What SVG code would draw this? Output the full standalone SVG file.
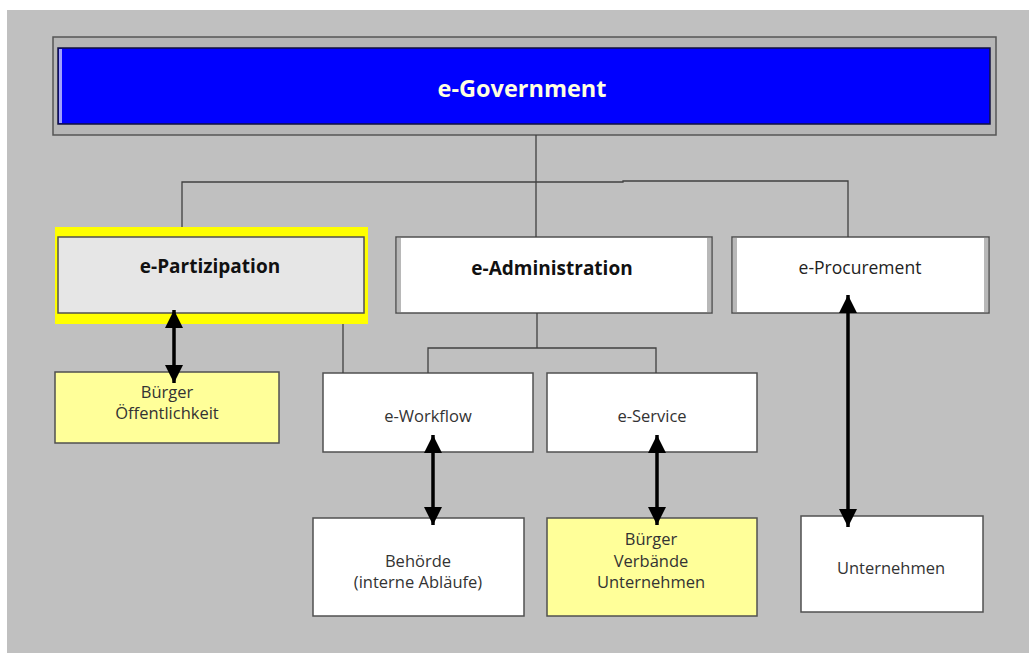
<svg xmlns="http://www.w3.org/2000/svg" width="1029" height="653" viewBox="0 0 1029 653">
<style>
.box{stroke:#505050;stroke-width:1.5}
.white{fill:#ffffff}
.pale{fill:#ffff99}
.t{font-family:"Open Sans","Liberation Sans",sans-serif;text-anchor:middle;fill:#333333}
.n{font-size:16.5px}
.b{font-size:19px;font-weight:bold;fill:#111111}
.conn{stroke:#404040;stroke-width:1.3;fill:none}
.arr{stroke:#000000;stroke-width:3.5;fill:none;marker-start:url(#head);marker-end:url(#head)}
.bevel{fill:#b8b8b8}
</style>
<defs>
<marker id="head" markerUnits="userSpaceOnUse" markerWidth="18" markerHeight="18" viewBox="0 0 18 18" refX="18" refY="9" orient="auto-start-reverse">
<path d="M0,0 L18,9 L0,18 z" fill="#000000"/>
</marker>
</defs>
<rect x="0" y="0" width="1029" height="653" fill="#ffffff"/>
<rect x="7" y="10" width="1022" height="643" fill="#c0c0c0"/>

<g id="e-government">
<rect x="53" y="37" width="943" height="98" fill="#b6b6b6" stroke="#555555" stroke-width="1.5"/>
<rect x="58" y="48" width="932" height="76" fill="#0000ff" stroke="#101040" stroke-width="1.5"/>
<rect x="59" y="49" width="3" height="74" fill="#a0a0ff"/>
<text x="522" y="97" class="t" style="font-size:23.5px;font-weight:bold;fill:#ffffe0">e-Government</text>
</g>

<g id="e-partizipation">
<rect x="55" y="227" width="313" height="97" fill="#ffff00"/>
<rect x="58" y="237" width="306" height="76" fill="#e6e6e6" class="box"/>
<text x="210" y="273" class="t b">e-Partizipation</text>
</g>

<g id="e-administration">
<rect x="396" y="237" width="316" height="76" class="box white"/>
<rect x="397" y="238" width="4" height="74" class="bevel"/>
<rect x="707" y="238" width="4" height="74" class="bevel"/>
<text x="552" y="275" class="t b">e-Administration</text>
</g>

<g id="e-procurement">
<rect x="732" y="237" width="257" height="76" class="box white"/>
<rect x="733" y="238" width="4" height="74" class="bevel"/>
<rect x="984" y="238" width="4" height="74" class="bevel"/>
<text x="860" y="274" class="t" style="font-size:17.5px;fill:#222222">e-Procurement</text>
</g>

<g id="buerger-oeffentlichkeit">
<rect x="55" y="372" width="224" height="71" class="box pale"/>
<text x="167" y="398" class="t n">Bürger</text>
<text x="167" y="419" class="t n">Öffentlichkeit</text>
</g>

<g id="e-workflow">
<rect x="323" y="373" width="210" height="79" class="box white"/>
<text x="428" y="422" class="t n">e-Workflow</text>
</g>

<g id="e-service">
<rect x="547" y="373" width="210" height="79" class="box white"/>
<text x="652" y="422" class="t n">e-Service</text>
</g>

<g id="behoerde">
<rect x="313" y="518" width="211" height="98" class="box white"/>
<text x="418" y="567" class="t n">Behörde</text>
<text x="418" y="588" class="t n">(interne Abläufe)</text>
</g>

<g id="buerger-verbaende-unternehmen">
<rect x="547" y="518" width="210" height="98" class="box pale"/>
<text x="651" y="545" class="t n">Bürger</text>
<text x="651" y="567" class="t n">Verbände</text>
<text x="651" y="588" class="t n">Unternehmen</text>
</g>

<g id="unternehmen">
<rect x="801" y="516" width="182" height="96" class="box white"/>
<text x="891" y="574" class="t n">Unternehmen</text>
</g>

<g id="connectors">
<path class="conn" d="M536,135 V237"/>
<path class="conn" d="M182,227 V182 H623 V181 H848 V237"/>
<path class="conn" d="M343,324 V373"/>
<path class="conn" d="M537,313 V348"/>
<path class="conn" d="M428,373 V348 H656 V373"/>
<line class="arr" x1="174" y1="310" x2="174" y2="383"/>
<line class="arr" x1="433" y1="435" x2="433" y2="525"/>
<line class="arr" x1="657" y1="435" x2="657" y2="525"/>
<line class="arr" x1="848" y1="295" x2="848" y2="527"/>
</g>
</svg>
